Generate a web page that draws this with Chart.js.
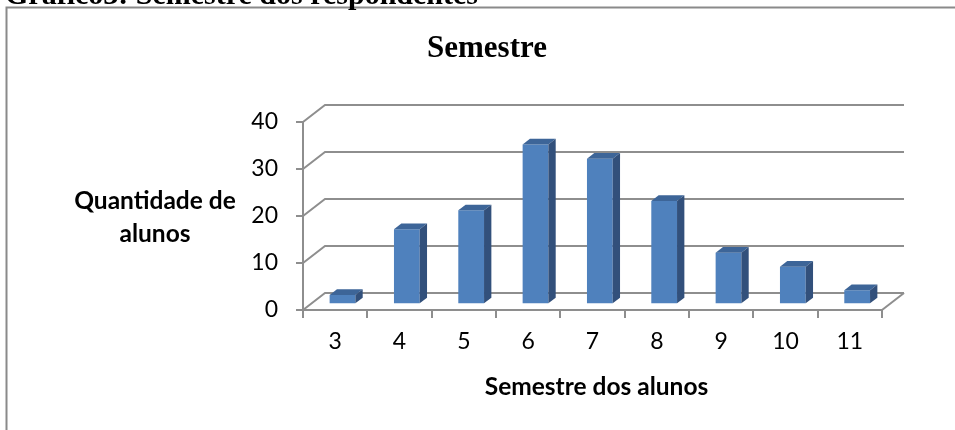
<!DOCTYPE html>
<html>
<head>
<meta charset="utf-8">
<script src="https://cdn.jsdelivr.net/npm/chart.js@4"></script>
<style>
html,body{margin:0;padding:0;background:#fff;}
#c{display:block;}
</style>
</head>
<body>
<canvas id="c" width="955" height="430"></canvas>
<script>
// ---- data ----
const categories = ['3','4','5','6','7','8','9','10','11'];
const values = [2, 16, 20, 34, 31, 22, 11, 8, 3];
const yTicks = [0, 10, 20, 30, 40];
const chartTitle = 'Semestre';
const xTitle = 'Semestre dos alunos';
const yTitle = ['Quantidade de', 'alunos'];
const headerText = 'Gráfico3: Semestre dos respondentes';

// ---- style ----
const GRID = '#8e8e8e';
const FRONT = '#4f81bd';
const TOP = '#3d6598';
const SIDE = '#32507b';
const DX = 22, DY = -17;          // depth of the 3D box
const SANS = 'Lato, "Open Sans", sans-serif';

const wall3d = {
  id: 'wall3d',
  beforeDatasetsDraw(chart) {
    const ctx = chart.ctx, xs = chart.scales.x, ys = chart.scales.y;
    ctx.save();
    ctx.strokeStyle = GRID; ctx.lineWidth = 2; ctx.lineJoin = 'miter';
    yTicks.forEach(v => {
      const py = ys.getPixelForValue(v);
      ctx.beginPath();
      ctx.moveTo(xs.left, py);
      ctx.lineTo(xs.left + DX, py + DY);
      ctx.lineTo(xs.right + DX, py + DY);
      ctx.stroke();
    });
    const p0 = ys.getPixelForValue(0);
    ctx.beginPath();
    ctx.moveTo(xs.right, p0);
    ctx.lineTo(xs.right + DX, p0 + DY);
    ctx.stroke();
    ctx.restore();
    ctx.save();
    ctx.translate(DX / 3, DY / 3);
  },
  afterDatasetsDraw(chart) {
    const ctx = chart.ctx;
    const meta = chart.getDatasetMeta(0);
    const dx = DX / 3, dy = DY / 3;
    meta.data.forEach(bar => {
      const p = bar.getProps(['x', 'y', 'base', 'width'], true);
      const x1 = p.x - p.width / 2, x2 = p.x + p.width / 2;
      // top face
      ctx.fillStyle = TOP;
      ctx.beginPath();
      ctx.moveTo(x1, p.y); ctx.lineTo(x2, p.y);
      ctx.lineTo(x2 + dx, p.y + dy); ctx.lineTo(x1 + dx, p.y + dy);
      ctx.closePath(); ctx.fill();
      // side face
      ctx.fillStyle = SIDE;
      ctx.beginPath();
      ctx.moveTo(x2, p.y); ctx.lineTo(x2 + dx, p.y + dy);
      ctx.lineTo(x2 + dx, p.base + dy); ctx.lineTo(x2, p.base);
      ctx.closePath(); ctx.fill();
    });
    ctx.restore();
  },
  afterDraw(chart) {
    const ctx = chart.ctx, xs = chart.scales.x;
    ctx.save();
    // frame
    ctx.strokeStyle = '#8a8a8a'; ctx.lineWidth = 2;
    ctx.beginPath();
    ctx.moveTo(6.5, 430); ctx.lineTo(6.5, 7.5); ctx.lineTo(955, 7.5);
    ctx.stroke();
    ctx.fillStyle = '#000';
    // header (cut off at top)
    ctx.font = 'bold 30px "Liberation Serif", "Times New Roman", serif';
    ctx.textAlign = 'left'; ctx.textBaseline = 'alphabetic';
    ctx.fillText(headerText, 5, 4);
    // chart title
    ctx.font = 'bold 31px "Liberation Serif", "Times New Roman", serif';
    ctx.textAlign = 'center';
    ctx.fillText(chartTitle, 487, 57);
    // axis titles
    ctx.font = 'bold 24.5px ' + SANS;
    ctx.fillText(yTitle[0], 155, 209);
    ctx.fillText(yTitle[1], 155, 242);
    ctx.fillText(xTitle, (xs.left + xs.right) / 2 + 4, 395);
    ctx.restore();
  }
};

new Chart(document.getElementById('c'), {
  type: 'bar',
  data: {
    labels: categories,
    datasets: [{
      data: values,
      backgroundColor: FRONT,
      borderWidth: 0,
      barPercentage: 0.4,
      categoryPercentage: 1.0
    }]
  },
  options: {
    responsive: false,
    devicePixelRatio: 1,
    animation: false,
    events: [],
    layout: { autoPadding: false, padding: { left: 0, right: 73, top: 122, bottom: 0 } },
    plugins: { legend: { display: false }, title: { display: false }, tooltip: { enabled: false } },
    scales: {
      x: {
        afterFit: s => { s.height = 120; },
        offset: true,
        grid: { drawOnChartArea: false, drawTicks: true, tickLength: 8, color: GRID, lineWidth: 2, offset: true },
        border: { display: true, color: GRID, width: 2 },
        ticks: { color: '#000', font: { family: SANS, size: 23 }, padding: 10, maxRotation: 0 }
      },
      y: {
        min: 0, max: 40,
        afterFit: s => { s.width = 303; },
        afterBuildTicks: s => { s.ticks = yTicks.map(v => ({ value: v })); },
        grid: { drawOnChartArea: false, drawTicks: true, tickLength: 7, color: GRID, lineWidth: 2 },
        border: { display: true, color: GRID, width: 2 },
        ticks: { color: '#000', font: { family: SANS, size: 23 }, padding: 18 }
      }
    }
  },
  plugins: [wall3d]
});
</script>
</body>
</html>
